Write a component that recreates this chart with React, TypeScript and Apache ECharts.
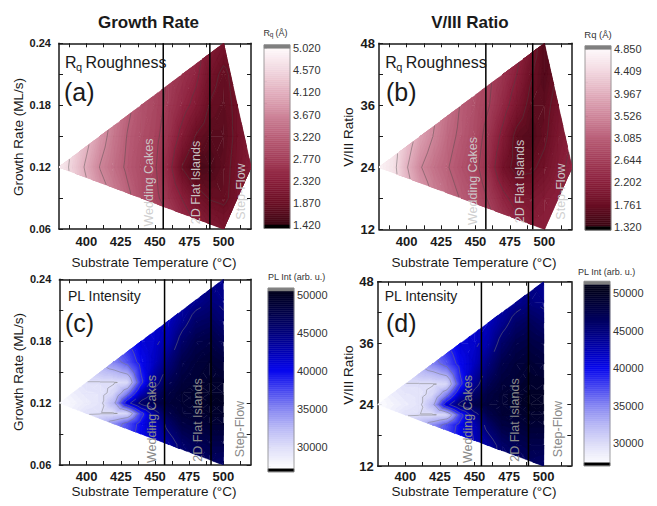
import React, { useEffect, useRef } from "react";
import * as echarts from "echarts";

const FONT = "'Liberation Sans', Arial, Helvetica, sans-serif";

// ---------------- data ----------------
// Rq roughness grids (Å): rows = y values, columns = substrate temperature (°C)
const tempGrid = [380, 390, 400, 410, 420, 430, 440, 450, 460, 470, 480, 490, 500, 510, 520];
const rateRows = [0.06, 0.09, 0.12, 0.15, 0.18, 0.21, 0.24];
const ratioRows = [12, 18, 24, 30, 36, 42, 48];

const rqGrowth = [
  [4.9, 4.6, 4.3, 4.0, 3.7, 3.5, 3.3, 3.1, 2.9, 2.6, 2.4, 2.2, 2.1, 2.2, 2.3],
  [4.9, 4.6, 4.25, 3.9, 3.6, 3.3, 3.0, 2.85, 2.6, 2.3, 2.0, 1.85, 1.8, 2.0, 2.2],
  [4.85, 4.45, 4.05, 3.65, 3.4, 3.15, 2.95, 2.8, 2.45, 1.85, 1.55, 1.6, 1.75, 2.0, 2.25],
  [4.9, 4.6, 4.25, 3.85, 3.5, 3.2, 3.0, 2.85, 2.6, 2.2, 1.85, 1.7, 1.7, 1.95, 2.2],
  [4.9, 4.6, 4.3, 4.0, 3.6, 3.3, 3.05, 2.9, 2.7, 2.45, 2.2, 1.85, 1.75, 1.95, 2.2],
  [4.9, 4.6, 4.3, 4.0, 3.7, 3.4, 3.1, 2.9, 2.75, 2.6, 2.4, 2.0, 1.8, 2.0, 2.2],
  [4.9, 4.6, 4.3, 4.0, 3.7, 3.4, 3.1, 2.9, 2.8, 2.7, 2.5, 2.2, 2.05, 2.1, 2.2],
];

const rqRatio = [
  [4.8, 4.6, 4.2, 3.9, 3.6, 3.4, 3.2, 3.0, 2.8, 2.6, 2.4, 2.2, 2.2, 2.3, 2.4],
  [4.8, 4.6, 4.2, 3.8, 3.5, 3.25, 3.05, 2.85, 2.6, 2.3, 2.05, 2.0, 2.1, 2.2, 2.3],
  [4.8, 4.55, 4.0, 3.55, 3.3, 3.1, 2.9, 2.72, 2.4, 1.9, 1.65, 1.7, 1.85, 2.1, 2.3],
  [4.8, 4.6, 4.2, 3.8, 3.5, 3.2, 3.0, 2.8, 2.5, 2.1, 1.65, 1.55, 1.7, 2.0, 2.2],
  [4.8, 4.6, 4.2, 3.9, 3.6, 3.3, 3.05, 2.85, 2.65, 2.35, 2.0, 1.65, 1.65, 1.9, 2.1],
  [4.8, 4.6, 4.2, 3.9, 3.6, 3.35, 3.1, 2.9, 2.7, 2.5, 2.2, 1.8, 1.55, 1.8, 2.0],
  [4.8, 4.6, 4.2, 3.9, 3.6, 3.4, 3.15, 2.95, 2.8, 2.6, 2.35, 2.0, 1.55, 1.8, 2.0],
];

// PL intensity grids (×1000 arb. u.)
const tempGridPL = [380, 390, 400, 410, 420, 430, 440, 450, 460, 470, 480, 490, 500];
const rateRowsPL = [0.06, 0.08, 0.1, 0.11, 0.12, 0.13, 0.14, 0.16, 0.18, 0.2, 0.22, 0.24];
const ratioRowsPL = [12, 16, 20, 22, 24, 26, 28, 32, 36, 40, 44, 48];

const plGrowth = [
  [27.3, 32, 33, 35, 37, 39, 41, 43, 44, 45, 46, 46.5, 46],
  [27.3, 31, 32, 34, 36, 38, 40.5, 42, 43.5, 46, 47, 47.5, 47.5],
  [27.3, 29.5, 31, 32.5, 34.5, 37, 40, 42.5, 46, 48, 48.5, 49, 49],
  [27.3, 28.6, 29.8, 29.9, 29.9, 30.3, 38, 44, 47.5, 48.8, 49, 49.5, 49.5],
  [27.3, 28, 28.8, 29.5, 32.5, 41, 46, 47.5, 48.5, 49, 49.5, 49.8, 49.8],
  [27.3, 28.6, 29.3, 29.5, 30.5, 35, 42, 46, 48, 49, 49.5, 49.7, 49.7],
  [27.3, 29, 29.9, 29.9, 29.9, 30.3, 38.5, 44, 47, 48.5, 49, 49.5, 49.5],
  [27.3, 31, 32, 33.5, 35, 37, 40, 42, 45, 47.5, 48.5, 49, 48.5],
  [27.3, 32, 33, 35, 37, 39, 41, 41.5, 43, 46, 47.5, 48, 47],
  [27.3, 32, 33, 35, 37, 39, 41, 41.5, 42, 44, 46, 46.5, 45.5],
  [27.3, 32, 33, 35, 37, 39, 41, 41.5, 42, 43, 44, 45, 44.5],
  [27.3, 32, 33, 35, 37, 39, 41, 41.5, 42, 43, 44, 44.5, 44],
];

const plRatio = [
  [27.3, 32, 33, 35, 37, 39, 41, 43, 44, 45, 46, 46.5, 46],
  [27.3, 31, 32, 34, 36, 38, 40.5, 42, 43.5, 46, 47, 47.5, 47.5],
  [27.3, 29.5, 31, 32.5, 34.5, 37, 40, 42.5, 46, 48, 48.5, 49, 49],
  [27.3, 28.6, 29.8, 29.9, 29.9, 30.3, 38, 44, 47.5, 48.8, 49, 49.5, 49.5],
  [27.3, 28, 28.8, 29.5, 32.5, 41, 46, 47.5, 48.5, 49, 49.5, 49.8, 49.8],
  [27.3, 28.6, 29.3, 29.5, 30.5, 35, 42, 46, 48, 49, 49.5, 49.7, 49.7],
  [27.3, 29, 29.9, 29.9, 29.9, 30.3, 38.5, 44, 47, 48.5, 49, 49.5, 49.5],
  [27.3, 31, 32, 33.5, 35, 37, 40, 42, 45, 47.5, 48.5, 49, 48.5],
  [27.3, 32, 33, 35, 37, 39, 41, 41.5, 43, 46, 47.5, 48, 47.5],
  [27.3, 32, 33, 35, 37, 39, 41, 41.5, 42, 44, 46, 46.8, 46],
  [27.3, 32, 33, 35, 37, 39, 41, 41.5, 42, 43, 44, 45, 44.5],
  [27.3, 32, 33, 35, 37, 39, 41, 41.5, 42, 43, 44, 44.5, 44],
];

// Sampled domains (convex hull of the growth conditions)
const domainGrowthRq = [[380, 0.12], [500, 0.24], [520, 0.12], [500, 0.06]];
const domainRatioRq = [[380, 24], [500, 48], [520, 24], [500, 12]];
const domainGrowthPL = [[380, 0.12], [500, 0.24], [500, 0.06]];
const domainRatioPL = [[380, 24], [500, 48], [500, 12]];

// Axis ticks
const tempLabels = [400, 425, 450, 475, 500];
const tempTicks = [387.5, 400, 412.5, 425, 437.5, 450, 462.5, 475, 487.5, 500, 512.5];
const rateLabels = [0.06, 0.12, 0.18, 0.24];
const rateTicks = [0.06, 0.09, 0.12, 0.15, 0.18, 0.21, 0.24];
const ratioLabels = [12, 24, 36, 48];
const ratioTicks = [12, 18, 24, 30, 36, 42, 48];

// Colour-scale labels
const rqGrowthScale = [1.42, 1.87, 2.32, 2.77, 3.22, 3.67, 4.12, 4.57, 5.02];
const rqRatioScale = [1.32, 1.761, 2.202, 2.644, 3.085, 3.526, 3.967, 4.409, 4.85];
const plScale = [30000, 35000, 40000, 45000, 50000];
const plMinorScale = [27500, 32500, 37500, 42500, 47500];
const plContourLevels = [30000, 33000, 36000, 39000, 42000, 45000];

// Regime boundaries (°C)
const regimeGrowthRq = [456, 490];
const regimeRatioRq = [457.5, 491.5];
const regimeGrowthPL = [457, 491];
const regimeRatioPL = [455, 489];

// ---------------- colour maps ----------------
const rqStopsFrac: [number, string][] = [
  [0, "#3a0613"],
  [0.125, "#6a0f24"],
  [0.25, "#8a1f3b"],
  [0.375, "#a33e59"],
  [0.5, "#b95f78"],
  [0.625, "#ce869a"],
  [0.75, "#e2afbe"],
  [0.875, "#f2d8e0"],
  [1, "#fdf8fa"],
];
const plStopsAbs: [number, string][] = [
  [27100, "#ffffff"],
  [30000, "#dedef9"],
  [32500, "#b8b8f5"],
  [35000, "#8686f2"],
  [37500, "#4646f0"],
  [40000, "#0808ee"],
  [42500, "#0000b4"],
  [45000, "#00007c"],
  [47500, "#00004c"],
  [50500, "#00001c"],
];

function hex(h: string) {
  return [parseInt(h.slice(1, 3), 16), parseInt(h.slice(3, 5), 16), parseInt(h.slice(5, 7), 16)];
}
function colorAt(stops: [number, string][], v: number) {
  if (v <= stops[0][0]) return stops[0][1];
  if (v >= stops[stops.length - 1][0]) return stops[stops.length - 1][1];
  for (let i = 0; i < stops.length - 1; i++) {
    const [a, ca] = stops[i];
    const [b, cb] = stops[i + 1];
    if (v >= a && v <= b) {
      const t = (v - a) / (b - a);
      const A = hex(ca), B = hex(cb);
      const c = A.map((x, k) => Math.round(x + t * (B[k] - x)));
      return `rgb(${c[0]},${c[1]},${c[2]})`;
    }
  }
  return stops[0][1];
}

// ---------------- contour geometry ----------------
type V = { x: number; y: number; v: number };

function clipHalf(poly: V[], f: (p: V) => number): V[] {
  const out: V[] = [];
  const n = poly.length;
  for (let i = 0; i < n; i++) {
    const a = poly[i], b = poly[(i + 1) % n];
    const fa = f(a), fb = f(b);
    if (fa >= 0) out.push(a);
    if ((fa >= 0) !== (fb >= 0)) {
      const t = fa / (fa - fb);
      out.push({ x: a.x + t * (b.x - a.x), y: a.y + t * (b.y - a.y), v: a.v + t * (b.v - a.v) });
    }
  }
  return out;
}

function clipDomain(poly: V[], domain: number[][]): V[] {
  const n = domain.length;
  let cx = 0, cy = 0;
  domain.forEach((p) => { cx += p[0] / n; cy += p[1] / n; });
  let out = poly;
  for (let k = 0; k < n && out.length >= 3; k++) {
    const p = domain[k], q = domain[(k + 1) % n];
    const ex = q[0] - p[0], ey = q[1] - p[1];
    const s = Math.sign(ex * (cy - p[1]) - ey * (cx - p[0]));
    out = clipHalf(out, (pt) => s * (ex * (pt.y - p[1]) - ey * (pt.x - p[0])));
  }
  return out;
}

type Band = { color: string; polys: number[][][] };

// Painter's algorithm: band k holds the super-level set {v >= lo_k}; drawn in ascending order.
function buildField(
  xs: number[], ys: number[], z: number[][], scale: number, domain: number[][],
  stops: [number, string][], vmin: number, vmax: number, nb: number, lineLevels: number[]
) {
  const step = (vmax - vmin) / nb;
  const bands: Band[] = [];
  const los: number[] = [];
  for (let k = 0; k < nb; k++) {
    const lo = vmin + k * step;
    los.push(lo);
    bands.push({ color: colorAt(stops, lo + step / 2), polys: [] });
  }
  const lines: number[][][] = [];
  for (let j = 0; j < ys.length - 1; j++) {
    for (let i = 0; i < xs.length - 1; i++) {
      const a: V = { x: xs[i], y: ys[j], v: z[j][i] * scale };
      const b: V = { x: xs[i + 1], y: ys[j], v: z[j][i + 1] * scale };
      const c: V = { x: xs[i + 1], y: ys[j + 1], v: z[j + 1][i + 1] * scale };
      const d: V = { x: xs[i], y: ys[j + 1], v: z[j + 1][i] * scale };
      const m: V = { x: (a.x + b.x) / 2, y: (a.y + d.y) / 2, v: (a.v + b.v + c.v + d.v) / 4 };
      for (const tri of [[a, b, m], [b, c, m], [c, d, m], [d, a, m]]) {
        const poly = clipDomain(tri, domain);
        if (poly.length < 3) continue;
        const lo = Math.min(...poly.map((q) => q.v));
        const hi = Math.max(...poly.map((q) => q.v));
        let kb = Math.floor((lo - vmin) / step);
        kb = Math.max(0, Math.min(nb - 1, kb));
        bands[kb].polys.push(poly.map((q) => [q.x, q.y]));
        for (let k = kb + 1; k < nb; k++) {
          if (los[k] >= hi) break;
          const p = clipHalf(poly, (q) => q.v - los[k]);
          if (p.length >= 3) bands[k].polys.push(p.map((q) => [q.x, q.y]));
        }
        for (const L of lineLevels) {
          const pts: number[][] = [];
          for (let e = 0; e < poly.length; e++) {
            const u = poly[e], w = poly[(e + 1) % poly.length];
            if ((u.v - L) * (w.v - L) < 0) {
              const t = (L - u.v) / (w.v - u.v);
              pts.push([u.x + t * (w.x - u.x), u.y + t * (w.y - u.y)]);
            }
          }
          if (pts.length === 2) lines.push(pts);
        }
      }
    }
  }
  return { bands: bands.filter((b) => b.polys.length), lines };
}

// ---------------- panels ----------------
const rqStops = (lo: number, hi: number): [number, string][] => rqStopsFrac.map(([f, c]) => [lo + f * (hi - lo), c]);

const panels = [
  {
    grid: { left: 59, top: 43.3, width: 192, height: 185.7 },
    xs: tempGrid, ys: rateRows, z: rqGrowth, scale: 1, domain: domainGrowthRq,
    yMin: 0.06, yMax: 0.24, yLabels: rateLabels, yTicks: rateTicks, yFmt: (v: number) => v.toFixed(2), ySize: 11, yMargin: 8,
    xMargin: 6,
    regimes: regimeGrowthRq,
    stops: rqStops(1.42, 5.02), vmin: 1.42, vmax: 5.02, nb: 60,
    lineLevels: rqGrowthScale.slice(1, 8), lineColor: "rgba(70,70,70,0.6)",
    cb: { left: 264, top: 44.8, width: 26, height: 183.7, min: 1.42, max: 5.02, cap: 0.071, labels: rqGrowthScale,
      ticks: rqGrowthScale.concat(rqGrowthScale.slice(0, 8).map((v, i) => (v + rqGrowthScale[i + 1]) / 2)), fmt: (v: number) => v.toFixed(3) },
  },
  {
    grid: { left: 379, top: 43.3, width: 193, height: 186 },
    xs: tempGrid, ys: ratioRows, z: rqRatio, scale: 1, domain: domainRatioRq,
    yMin: 12, yMax: 48, yLabels: ratioLabels, yTicks: ratioTicks, yFmt: (v: number) => String(v), ySize: 13, yMargin: 4,
    xMargin: 6,
    regimes: regimeRatioRq,
    stops: rqStops(1.32, 4.85), vmin: 1.32, vmax: 4.85, nb: 60,
    lineLevels: rqRatioScale.slice(1, 8), lineColor: "rgba(70,70,70,0.6)",
    cb: { left: 585, top: 45.8, width: 26, height: 184.4, min: 1.32, max: 4.85, cap: 0.07, labels: rqRatioScale,
      ticks: rqRatioScale.concat(rqRatioScale.slice(0, 8).map((v, i) => (v + rqRatioScale[i + 1]) / 2)), fmt: (v: number) => v.toFixed(3) },
  },
  {
    grid: { left: 59.3, top: 279.3, width: 191.4, height: 185.7 },
    xs: tempGridPL, ys: rateRowsPL, z: plGrowth, scale: 1000, domain: domainGrowthPL,
    yMin: 0.06, yMax: 0.24, yLabels: rateLabels, yTicks: rateTicks, yFmt: (v: number) => v.toFixed(2), ySize: 11, yMargin: 8,
    xMargin: 5,
    regimes: regimeGrowthPL,
    stops: plStopsAbs, vmin: 27100, vmax: 50500, nb: 60,
    lineLevels: plContourLevels, lineColor: "rgba(120,120,120,0.7)",
    cb: { left: 268, top: 288, width: 26, height: 183.8, min: 27100, max: 50500, cap: 393, labels: plScale,
      ticks: plScale.concat(plMinorScale), fmt: (v: number) => String(v) },
  },
  {
    grid: { left: 377.7, top: 281.7, width: 193.6, height: 184.3 },
    xs: tempGridPL, ys: ratioRowsPL, z: plRatio, scale: 1000, domain: domainRatioPL,
    yMin: 12, yMax: 48, yLabels: ratioLabels, yTicks: ratioTicks, yFmt: (v: number) => String(v), ySize: 13, yMargin: 4,
    xMargin: 4,
    regimes: regimeRatioPL,
    stops: plStopsAbs, vmin: 27400, vmax: 51200, nb: 60,
    lineLevels: plContourLevels, lineColor: "rgba(120,120,120,0.7)",
    cb: { left: 584, top: 281.3, width: 26, height: 184.5, min: 27400, max: 51200, cap: 400, labels: plScale,
      ticks: plScale.concat(plMinorScale), fmt: (v: number) => String(v) },
  },
];

function txt(text: string, x: number, y: number, o: any = {}) {
  return {
    type: "text",
    x, y,
    rotation: o.rot || 0,
    silent: true,
    z: 100,
    style: {
      text,
      fill: o.color || "#1a1a1a",
      font: `${o.weight || "normal"} ${o.size || 13}px ${FONT}`,
      textAlign: o.align || "center",
      align: o.align || "center",
      textVerticalAlign: "middle",
      verticalAlign: "middle",
    },
  };
}

function buildOption() {
  const grids: any[] = [];
  const xAxes: any[] = [];
  const yAxes: any[] = [];
  const series: any[] = [];
  const axisCol = "#1a1a1a";

  panels.forEach((p) => {
    const gMain = grids.length;
    grids.push({ ...p.grid, containLabel: false });
    const gCb = grids.length;
    grids.push({ ...p.cb, containLabel: false });
    const baseX = xAxes.length, baseY = yAxes.length;
    const line = { show: true, onZero: false, lineStyle: { color: axisCol, width: 1.5 } };
    const tickX = { show: true, inside: true, length: 4, customValues: tempTicks, lineStyle: { color: axisCol, width: 1 } };
    const tickY = { show: true, inside: true, length: 4, customValues: p.yTicks, lineStyle: { color: axisCol, width: 1 } };
    xAxes.push({
      type: "value", gridIndex: gMain, position: "bottom", min: 380, max: 520, axisLine: line, axisTick: tickX,
      splitLine: { show: false },
      axisLabel: { customValues: tempLabels, margin: p.xMargin, fontSize: 13, fontWeight: "bold", fontFamily: FONT, color: axisCol },
    });
    xAxes.push({
      type: "value", gridIndex: gMain, position: "top", min: 380, max: 520, axisLine: line, axisTick: tickX,
      splitLine: { show: false }, axisLabel: { show: false },
    });
    xAxes.push({ type: "value", gridIndex: gCb, min: 0, max: 1, show: false });
    yAxes.push({
      type: "value", gridIndex: gMain, position: "left", min: p.yMin, max: p.yMax, axisLine: line, axisTick: tickY,
      splitLine: { show: false },
      axisLabel: { customValues: p.yLabels, formatter: p.yFmt, margin: p.yMargin, fontSize: p.ySize, fontWeight: "bold", fontFamily: FONT, color: axisCol },
    });
    yAxes.push({
      type: "value", gridIndex: gMain, position: "right", min: p.yMin, max: p.yMax, axisLine: line, axisTick: tickY,
      splitLine: { show: false }, axisLabel: { show: false },
    });
    yAxes.push({
      type: "value", gridIndex: gCb, position: "right", min: p.cb.min - p.cb.cap, max: p.cb.max + p.cb.cap,
      axisLine: { show: false }, splitLine: { show: false },
      axisTick: { show: true, inside: false, length: 3, customValues: p.cb.ticks, lineStyle: { color: "#555", width: 0.8 } },
      axisLabel: { customValues: p.cb.labels, formatter: p.cb.fmt, margin: 3, fontSize: 11, fontFamily: FONT, color: "#333" },
    });

    // contour field (filled bands, ascending order)
    const field = buildField(p.xs, p.ys, p.z, p.scale, p.domain, p.stops, p.vmin, p.vmax, p.nb, p.lineLevels);
    series.push({
      type: "custom", xAxisIndex: baseX, yAxisIndex: baseY, silent: true, clip: true, z: 2,
      data: field.bands.map((b) => b.polys[0][0]),
      renderItem: (params: any, api: any) => {
        const b = field.bands[params.dataIndex];
        return {
          type: "group",
          children: b.polys.map((pts) => ({
            type: "polygon",
            shape: { points: pts.map((q) => api.coord(q)) },
            style: { fill: b.color, stroke: b.color, lineWidth: 0.4 },
          })),
        };
      },
    });
    // contour lines
    series.push({
      type: "custom", xAxisIndex: baseX, yAxisIndex: baseY, silent: true, clip: true, z: 3,
      data: [field.lines.length ? field.lines[0][0] : [p.xs[0], p.ys[0]]],
      renderItem: (params: any, api: any) => ({
        type: "group",
        children: field.lines.map((s) => ({
          type: "polyline",
          shape: { points: s.map((q) => api.coord(q)) },
          style: { stroke: p.lineColor, lineWidth: 0.7, fill: null },
        })),
      }),
    });
    // regime boundaries
    p.regimes.forEach((t) => {
      series.push({
        type: "line", xAxisIndex: baseX, yAxisIndex: baseY, silent: true, z: 5, symbol: "none",
        data: [[t, p.yMin], [t, p.yMax]],
        lineStyle: { color: "#000", width: 1.5 },
      });
    });

    // colour bar
    const cbItems: { lo: number; hi: number; color: string; stroke?: boolean }[] = [];
    const nCb = 90;
    const st = (p.cb.max - p.cb.min) / nCb;
    for (let i = 0; i < nCb; i++) {
      const lo = p.cb.min + i * st;
      cbItems.push({ lo, hi: lo + st, color: colorAt(p.stops, lo + st / 2) });
    }
    cbItems.push({ lo: p.cb.max, hi: p.cb.max + p.cb.cap, color: "#7f7f7f" });
    cbItems.push({ lo: p.cb.min - p.cb.cap, hi: p.cb.min, color: "#000000" });
    cbItems.push({ lo: p.cb.min - p.cb.cap, hi: p.cb.max + p.cb.cap, color: "none", stroke: true });
    series.push({
      type: "custom", xAxisIndex: baseX + 2, yAxisIndex: baseY + 2, silent: true, z: 2,
      data: cbItems.map((b) => [0.5, (b.lo + b.hi) / 2]),
      renderItem: (params: any, api: any) => {
        const b = cbItems[params.dataIndex];
        const p1 = api.coord([0, b.hi]);
        const p2 = api.coord([1, b.lo]);
        return {
          type: "rect",
          shape: { x: p1[0], y: p1[1], width: p2[0] - p1[0], height: p2[1] - p1[1] },
          style: b.stroke
            ? { fill: null, stroke: "#8a8a8a", lineWidth: 0.8 }
            : { fill: b.color, stroke: b.color, lineWidth: 0.5 },
          z2: b.stroke ? 10 : 0,
        };
      },
    });
  });

  const light = "rgba(205,205,205,0.95)";
  const mid = "#8a8a8a";
  const graphic: any[] = [
    txt("Growth Rate", 148.5, 22, { size: 17, weight: "bold" }),
    txt("V/III Ratio", 470, 22, { size: 17, weight: "bold" }),
    txt("Substrate Temperature (°C)", 154, 262, { size: 13.5 }),
    txt("Substrate Temperature (°C)", 474, 262, { size: 13.5 }),
    txt("Substrate Temperature (°C)", 154, 491, { size: 13.5 }),
    txt("Substrate Temperature (°C)", 474, 491, { size: 13.5 }),
    txt("Growth Rate (ML/s)", 18, 137, { size: 13.5, rot: Math.PI / 2 }),
    txt("Growth Rate (ML/s)", 18, 372, { size: 13.5, rot: Math.PI / 2 }),
    txt("V/III Ratio", 348, 137, { size: 13.5, rot: Math.PI / 2 }),
    txt("V/III Ratio", 348, 375, { size: 13.5, rot: Math.PI / 2 }),
    // panel annotations
    txt("R", 65, 62, { size: 16, align: "left" }),
    txt("q", 76, 67, { size: 11, align: "left" }),
    txt("Roughness", 85.5, 62, { size: 16, align: "left" }),
    txt("(a)", 64, 92, { size: 25, align: "left" }),
    txt("R", 385.3, 62, { size: 16, align: "left" }),
    txt("q", 396.3, 67, { size: 11, align: "left" }),
    txt("Roughness", 405.8, 62, { size: 16, align: "left" }),
    txt("(b)", 386, 92, { size: 25, align: "left" }),
    txt("PL Intensity", 68, 296, { size: 14, align: "left" }),
    txt("(c)", 65, 323, { size: 25, align: "left" }),
    txt("PL Intensity", 384.7, 296, { size: 14, align: "left" }),
    txt("(d)", 386, 323, { size: 25, align: "left" }),
    // regimes
    txt("Wedding Cakes", 149, 182.5, { size: 12.5, rot: Math.PI / 2, color: light }),
    txt("2D Flat Islands", 195.7, 182.5, { size: 12.5, rot: Math.PI / 2, color: light }),
    txt("Step-Flow", 240.7, 191.5, { size: 12.5, rot: Math.PI / 2, color: light }),
    txt("Wedding Cakes", 473, 181, { size: 12.5, rot: Math.PI / 2, color: light }),
    txt("2D Flat Islands", 519.7, 181.5, { size: 12.5, rot: Math.PI / 2, color: light }),
    txt("Step-Flow", 560.7, 191.5, { size: 12.5, rot: Math.PI / 2, color: light }),
    txt("Wedding Cakes", 151.7, 419, { size: 12.5, rot: Math.PI / 2, color: mid }),
    txt("2D Flat Islands", 198.3, 420, { size: 12.5, rot: Math.PI / 2, color: mid }),
    txt("Step-Flow", 240, 429, { size: 12.5, rot: Math.PI / 2, color: mid }),
    txt("Wedding Cakes", 468, 419, { size: 12.5, rot: Math.PI / 2, color: mid }),
    txt("2D Flat Islands", 514.7, 420, { size: 12.5, rot: Math.PI / 2, color: mid }),
    txt("Step-Flow", 558, 429, { size: 12.5, rot: Math.PI / 2, color: mid }),
    // colour bar titles
    txt("R", 263.5, 32.5, { size: 9, align: "left", color: "#333" }),
    txt("q", 269.8, 34.5, { size: 6.5, align: "left", color: "#333" }),
    txt("(Å)", 275.5, 32.5, { size: 9, align: "left", color: "#333" }),
    txt("Rq (Å)", 598, 34, { size: 9.5, color: "#333" }),
    txt("PL Int (arb. u.)", 268, 277, { size: 9, align: "left", color: "#333" }),
    txt("PL Int (arb. u.)", 578, 272, { size: 9, align: "left", color: "#333" }),
  ];

  return {
    animation: false,
    backgroundColor: "#ffffff",
    textStyle: { fontFamily: FONT },
    grid: grids,
    xAxis: xAxes,
    yAxis: yAxes,
    series,
    graphic,
  };
}

export default function App() {
  const ref = useRef<HTMLDivElement>(null);
  useEffect(() => {
    const chart = echarts.init(ref.current!, undefined, { renderer: "svg" });
    chart.setOption(buildOption() as any);
    return () => chart.dispose();
  }, []);
  return (
    <div
      ref={ref}
      style={{ position: "fixed", left: 0, top: 0, width: 657, height: 506, background: "#fff" }}
    />
  );
}
